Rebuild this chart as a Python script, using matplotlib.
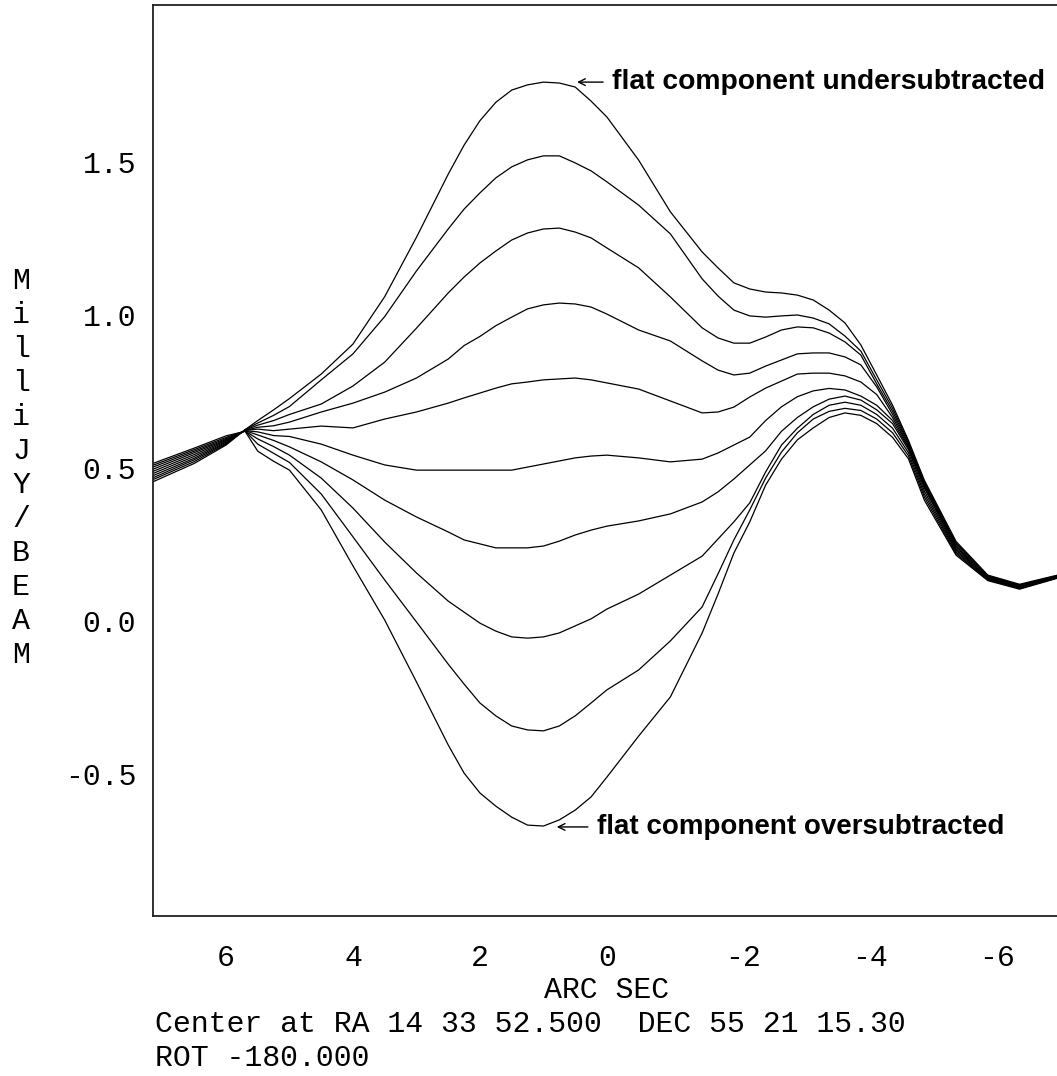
import matplotlib
matplotlib.use("Agg")
import matplotlib.pyplot as plt
import matplotlib.transforms as mtransforms

plt.rcParams["axes.unicode_minus"] = False

# Offset along the slice, arc seconds
arcsec = [7.15, 6.5, 6.0, 5.7, 5.5, 5.25, 5.0, 4.5, 4.0, 3.5, 3.0, 2.5, 2.25, 2.0,
          1.75, 1.5, 1.25, 1.0, 0.75, 0.5, 0.25, 0.0, -0.5, -1.0, -1.5, -1.75,
          -2.0, -2.25, -2.5, -2.75, -3.0, -3.25, -3.5, -3.75, -4.0, -4.25, -4.5,
          -4.75, -5.0, -5.5, -6.0, -6.5, -7.2]

# Brightness profiles (milliJy/beam), from most undersubtracted to most oversubtracted
profile_1 = [0.455, 0.515, 0.575, 0.625, 0.655, 0.690, 0.727, 0.807, 0.905, 1.060, 1.254, 1.460, 1.555, 1.635,
             1.695, 1.735, 1.752, 1.761, 1.758, 1.745, 1.699, 1.647, 1.506, 1.337, 1.206, 1.154,
             1.105, 1.085, 1.075, 1.072, 1.065, 1.049, 1.016, 0.974, 0.902, 0.804, 0.705,
             0.590, 0.460, 0.260, 0.150, 0.120, 0.155]
profile_2 = [0.462, 0.521, 0.578, 0.625, 0.647, 0.672, 0.701, 0.788, 0.873, 0.995, 1.144, 1.281, 1.346, 1.399,
             1.448, 1.484, 1.507, 1.520, 1.520, 1.497, 1.471, 1.435, 1.359, 1.265, 1.118, 1.062,
             1.016, 0.997, 0.993, 0.997, 1.000, 0.990, 0.971, 0.931, 0.882, 0.788, 0.695,
             0.585, 0.455, 0.255, 0.148, 0.118, 0.154]
profile_3 = [0.468, 0.527, 0.581, 0.624, 0.640, 0.655, 0.675, 0.709, 0.768, 0.846, 0.957, 1.072, 1.124, 1.170,
             1.209, 1.245, 1.268, 1.281, 1.284, 1.271, 1.252, 1.219, 1.154, 1.059, 0.958, 0.925,
             0.908, 0.908, 0.928, 0.951, 0.961, 0.958, 0.941, 0.912, 0.869, 0.775, 0.685,
             0.580, 0.450, 0.250, 0.146, 0.116, 0.153]
profile_4 = [0.475, 0.532, 0.584, 0.623, 0.633, 0.638, 0.650, 0.683, 0.712, 0.748, 0.794, 0.856, 0.900, 0.930,
             0.965, 0.993, 1.020, 1.033, 1.039, 1.036, 1.026, 1.003, 0.951, 0.915, 0.850, 0.820,
             0.804, 0.810, 0.833, 0.853, 0.873, 0.876, 0.876, 0.863, 0.837, 0.765, 0.675,
             0.575, 0.445, 0.245, 0.144, 0.115, 0.152]
profile_5 = [0.482, 0.538, 0.587, 0.623, 0.627, 0.622, 0.627, 0.637, 0.631, 0.660, 0.683, 0.712, 0.729, 0.745,
             0.761, 0.775, 0.781, 0.788, 0.791, 0.794, 0.788, 0.778, 0.758, 0.719, 0.680, 0.683,
             0.699, 0.732, 0.761, 0.784, 0.807, 0.810, 0.810, 0.801, 0.781, 0.740, 0.665,
             0.570, 0.440, 0.240, 0.142, 0.113, 0.151]
profile_6 = [0.489, 0.544, 0.590, 0.622, 0.618, 0.606, 0.603, 0.578, 0.542, 0.510, 0.493, 0.493, 0.493, 0.493,
             0.493, 0.493, 0.503, 0.513, 0.523, 0.533, 0.539, 0.542, 0.533, 0.520, 0.529, 0.549,
             0.575, 0.601, 0.655, 0.700, 0.733, 0.752, 0.760, 0.755, 0.735, 0.705, 0.655,
             0.565, 0.435, 0.235, 0.140, 0.112, 0.150]
profile_7 = [0.496, 0.550, 0.593, 0.622, 0.608, 0.590, 0.569, 0.520, 0.461, 0.395, 0.340, 0.291, 0.265, 0.252,
             0.239, 0.239, 0.239, 0.245, 0.261, 0.281, 0.297, 0.310, 0.327, 0.350, 0.389, 0.422,
             0.464, 0.510, 0.556, 0.620, 0.665, 0.700, 0.725, 0.735, 0.722, 0.690, 0.645,
             0.560, 0.425, 0.230, 0.138, 0.110, 0.149]
profile_8 = [0.503, 0.555, 0.596, 0.621, 0.595, 0.570, 0.542, 0.467, 0.369, 0.258, 0.157, 0.065, 0.029, -0.007,
             -0.033, -0.052, -0.056, -0.052, -0.039, -0.016, 0.007, 0.039, 0.088, 0.150, 0.212, 0.268,
             0.324, 0.386, 0.487, 0.575, 0.630, 0.675, 0.705, 0.715, 0.705, 0.675, 0.630,
             0.550, 0.415, 0.225, 0.136, 0.108, 0.148]
profile_9 = [0.509, 0.560, 0.600, 0.621, 0.578, 0.548, 0.518, 0.415, 0.275, 0.134, -0.003, -0.141, -0.206, -0.268,
             -0.310, -0.343, -0.356, -0.359, -0.343, -0.310, -0.268, -0.225, -0.160, -0.065, 0.046, 0.154,
             0.265, 0.363, 0.467, 0.552, 0.615, 0.660, 0.685, 0.695, 0.688, 0.660, 0.615,
             0.540, 0.405, 0.220, 0.134, 0.106, 0.147]
profile_10 = [0.515, 0.565, 0.605, 0.620, 0.555, 0.522, 0.493, 0.363, 0.180, 0.003, -0.199, -0.405, -0.497, -0.562,
              -0.605, -0.641, -0.667, -0.670, -0.650, -0.618, -0.575, -0.510, -0.376, -0.248, -0.039, 0.088,
              0.222, 0.324, 0.444, 0.529, 0.592, 0.631, 0.665, 0.680, 0.672, 0.645, 0.600,
              0.530, 0.395, 0.215, 0.132, 0.104, 0.146]

profiles = [profile_1, profile_2, profile_3, profile_4, profile_5,
            profile_6, profile_7, profile_8, profile_9, profile_10]

x_ticks = [6, 4, 2, 0, -2, -4, -6]
x_tick_labels = ["6", "4", "2", "0", "-2", "-4", "-6"]
y_ticks = [-0.5, 0.0, 0.5, 1.0, 1.5]
y_tick_labels = ["-0.5", "0.0", "0.5", "1.0", "1.5"]

MONO = "Liberation Mono"
BOLD = "Liberation Sans"
FS = 21.5

W, H = 1057, 1076
fig = plt.figure(figsize=(W / 100, H / 100), dpi=100)
ax = fig.add_axes([153 / W, 1 - 916 / H, 911 / W, 911 / H])

for p in profiles:
    ax.plot(arcsec, p, color="black", lw=0.9, solid_joinstyle="round")

ax.set_xlim(7.15, -7.2)
ax.set_ylim(-0.964, 2.013)

for s in ax.spines.values():
    s.set_linewidth(1.3)
    s.set_color("#202020")

ax.set_xticks(x_ticks)
ax.set_xticklabels(x_tick_labels)
ax.set_yticks(y_ticks)
ax.set_yticklabels(y_tick_labels)
ax.tick_params(axis="both", length=0, labelsize=FS)
ax.tick_params(axis="x", pad=20.5)
ax.tick_params(axis="y", pad=12)
for lab in ax.get_xticklabels() + ax.get_yticklabels():
    lab.set_fontfamily(MONO)

# keep the digit of negative labels centred on its tick
shift = mtransforms.ScaledTranslation(0.092, 0, fig.dpi_scale_trans)
for lab in ax.get_xticklabels():
    if lab.get_text().startswith("-"):
        lab.set_transform(lab.get_transform() + shift)

ax.set_xlabel("ARC SEC", fontfamily=MONO, fontsize=FS, va="center")
ax.xaxis.set_label_coords((607 - 153) / 911, (916 - 990) / 911)

fig.text(155 / W, 1 - 1024 / H, "Center at RA 14 33 52.500  DEC 55 21 15.30",
         fontfamily=MONO, fontsize=FS, ha="left", va="center")
fig.text(155 / W, 1 - 1058 / H, "ROT -180.000",
         fontfamily=MONO, fontsize=FS, ha="left", va="center")

fig.text(21 / W, 1 - 468 / H, "\n".join("MilliJY/BEAM"),
         fontfamily=MONO, fontsize=FS, ha="center", va="center", linespacing=1.27)

arrow = dict(arrowstyle="->", lw=1.0, color="black", shrinkA=0, shrinkB=0,
             mutation_scale=12)
ax.annotate("", xy=(0.47, 1.761), xytext=(0.06, 1.761), arrowprops=arrow)
ax.text(-0.08, 1.761, "flat component undersubtracted", fontfamily=BOLD,
        fontweight="bold", fontsize=20.3, ha="left", va="center")
ax.annotate("", xy=(0.79, -0.673), xytext=(0.30, -0.673), arrowprops=arrow)
ax.text(0.157, -0.673, "flat component oversubtracted", fontfamily=BOLD,
        fontweight="bold", fontsize=20, ha="left", va="center")

fig.savefig("out.png", dpi=100, facecolor="white")
